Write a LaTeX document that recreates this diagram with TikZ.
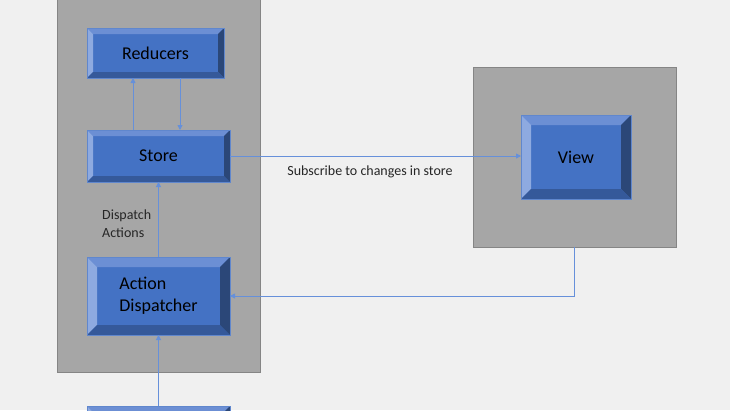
\documentclass[tikz,border=0pt]{standalone}
\usepackage{fontspec}
\setmainfont{Carlito}
\usetikzlibrary{arrows.meta}

\definecolor{canvas}{HTML}{F0F0F0}
\definecolor{panelfill}{HTML}{A6A6A6}
\definecolor{panelline}{HTML}{858585}
\definecolor{boxface}{HTML}{4472C4}
\definecolor{bvtop}{HTML}{6C8FD4}
\definecolor{bvleft}{HTML}{8EAAE0}
\definecolor{bvright}{HTML}{2B4778}
\definecolor{bvbottom}{HTML}{35599A}
\definecolor{link}{HTML}{6690DA}

\tikzset{
  panel/.style={fill=panelfill, draw=panelline, line width=.8pt, inner sep=0pt, outer sep=0pt},
  bevel/.style={fill=boxface, draw=boxface!85!white, line width=.5pt, inner sep=0pt, outer sep=0pt,
    font=\fontsize{18}{22}\selectfont, text=black,
    path picture={
      \fill[bvtop] (path picture bounding box.north west) -- (path picture bounding box.north east)
        -- ([xshift=-#1,yshift=-#1]path picture bounding box.north east) -- ([xshift=#1,yshift=-#1]path picture bounding box.north west) -- cycle;
      \fill[bvleft] (path picture bounding box.north west) -- (path picture bounding box.south west)
        -- ([xshift=#1,yshift=#1]path picture bounding box.south west) -- ([xshift=#1,yshift=-#1]path picture bounding box.north west) -- cycle;
      \fill[bvright] (path picture bounding box.north east) -- (path picture bounding box.south east)
        -- ([xshift=-#1,yshift=#1]path picture bounding box.south east) -- ([xshift=-#1,yshift=-#1]path picture bounding box.north east) -- cycle;
      \fill[bvbottom] (path picture bounding box.south west) -- (path picture bounding box.south east)
        -- ([xshift=-#1,yshift=#1]path picture bounding box.south east) -- ([xshift=#1,yshift=#1]path picture bounding box.south west) -- cycle;
    }},
  bevel/.default=10pt,
  link/.style={draw=link, line width=.9pt, -{Triangle[length=5pt,width=5pt]}},
  note/.style={font=\fontsize{14}{18}\selectfont, text=black!85, inner sep=0pt}
}

\begin{document}
\begin{tikzpicture}[x=1pt,y=-1pt]
\clip (0,0) rectangle (730,410);
\fill[canvas] (0,0) rectangle (730,410);

\node[panel, minimum width=203pt, minimum height=382pt] (storepanel) at (158.5,181) {};
\node[panel, minimum width=203pt, minimum height=180pt] (viewpanel) at (574.5,157) {};

\node[bevel=6pt, minimum width=137pt, minimum height=50pt] (reducers) at (155.5,53) {Reducers};
\node[bevel=6pt, minimum width=143pt, minimum height=52pt] (store) at (158.5,156) {Store};
\node[bevel, minimum width=143pt, minimum height=78pt, align=left] (dispatcher) at (158.5,296) {Action\\Dispatcher};
\node[bevel, minimum width=110pt, minimum height=84pt] (view) at (576,157) {View\hspace{8pt}};
\node[bevel, minimum width=143pt, minimum height=78pt] (creator) at (158.5,445) {};

\draw[link] ([xshift=-25.5pt]store.north) -- ([xshift=-25.5pt]store.north |- reducers.south);
\draw[link] ([xshift=24.5pt]reducers.south) -- ([xshift=24.5pt]reducers.south |- store.north);
\draw[link] (dispatcher.north) -- (store.south);
\draw[link] (creator.north) -- (dispatcher.south);
\draw[link] (store.east) -- (store.east -| view.west);
\draw[link] (viewpanel.south) |- (dispatcher.east);

\node[note, anchor=west, align=left] (dispatchnote) at (102,224) {Dispatch\\Actions};
\node[note] (subscribenote) at (370,172) {Subscribe to changes in store};

\end{tikzpicture}
\end{document}
